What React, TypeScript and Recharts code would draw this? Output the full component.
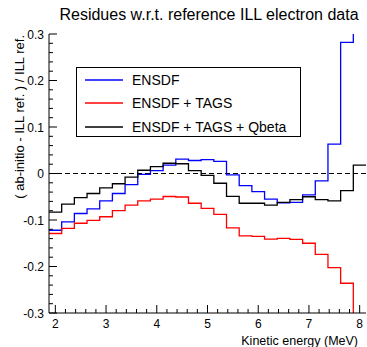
import React from 'react';
import { LineChart, Line, XAxis, YAxis, ReferenceLine, Legend } from 'recharts';

// Histogram bin edges (MeV); bins of 0.25 MeV centred on 2.00 ... 8.00
const binEdges = [1.875, 2.125, 2.375, 2.625, 2.875, 3.125, 3.375, 3.625, 3.875, 4.125, 4.375, 4.625, 4.875, 5.125, 5.375, 5.625, 5.875, 6.125, 6.375, 6.625, 6.875, 7.125, 7.375, 7.625, 7.875, 8.125];

const ensdf = [-0.122, -0.104, -0.086, -0.076, -0.059, -0.043, -0.024, -0.002, 0.006, 0.018, 0.031, 0.028, 0.030, 0.026, -0.003, -0.026, -0.039, -0.055, -0.063, -0.062, -0.046, -0.016, 0.063, 0.282, 0.45];
const ensdfTags = [-0.129, -0.118, -0.107, -0.101, -0.093, -0.080, -0.068, -0.059, -0.055, -0.0495, -0.0505, -0.064, -0.075, -0.088, -0.117, -0.134, -0.135, -0.141, -0.1395, -0.1415, -0.150, -0.174, -0.2025, -0.236, -0.45];
const ensdfTagsQbeta = [-0.083, -0.066, -0.052, -0.043, -0.031, -0.022, -0.008, 0.007, 0.015, 0.022, 0.021, 0.006, -0.004, -0.021, -0.049, -0.064, -0.064, -0.068, -0.062, -0.056, -0.050, -0.056, -0.059, -0.037, 0.018];

const seriesNames = ['ENSDF', 'ENSDF + TAGS', 'ENSDF + TAGS + Qbeta'];
const seriesColors = ['#0000ff', '#ff0000', '#000000'];

const xMajorTicks = [2, 3, 4, 5, 6, 7, 8];
const xTickLabels = ['2', '3', '4', '5', '6', '7', '8'];
const yMajorTicks = [-0.3, -0.2, -0.1, 0, 0.1, 0.2, 0.3];
const yTickLabels = ['-0.3', '-0.2', '-0.1', '0', '0.1', '0.2', '0.3'];

const title = 'Residues w.r.t. reference ILL electron data';
const xTitle = 'Kinetic energy (MeV)';
const yTitle = '( ab-initio - ILL ref. ) / ILL ref.';

const xDomain: [number, number] = [1.875, 8.125];
const yDomain: [number, number] = [-0.3, 0.3];

// all ticks (major + minor)
const xTicks: number[] = [];
for (let i = 0; i <= 30; i++) xTicks.push(Math.round((2 + 0.2 * i) * 10) / 10);
const yTicks: number[] = [];
for (let i = 0; i <= 30; i++) yTicks.push(Math.round((-0.3 + 0.02 * i) * 100) / 100);

// data table: one point per bin edge, last edge closes the last bin
const data = binEdges.map((edge, i) => {
  const k = Math.min(i, ensdf.length - 1);
  return { edge, ensdf: ensdf[k], ensdfTags: ensdfTags[k], ensdfTagsQbeta: ensdfTagsQbeta[k] };
});

const FONT = '"Liberation Sans", Arial, Helvetica, sans-serif';
const MAJ = 8;
const MIN = 4;

const idxOf = (arr: number[], v: number) => arr.findIndex((t) => Math.abs(t - v) < 1e-9);

const BottomTick = (props: any) => {
  const { x, y, payload } = props;
  const i = idxOf(xMajorTicks, payload.value);
  const major = i >= 0;
  return (
    <g>
      <line x1={x} x2={x} y1={y} y2={y - (major ? MAJ : MIN)} stroke="#000" strokeWidth={1} />
      {major && (
        <text x={x} y={y + 15} textAnchor="middle" fontSize={12} fontFamily={FONT} fill="#000">
          {xTickLabels[i]}
        </text>
      )}
    </g>
  );
};

const TopTick = (props: any) => {
  const { x, y, payload } = props;
  const major = idxOf(xMajorTicks, payload.value) >= 0;
  return <line x1={x} x2={x} y1={y} y2={y + (major ? MAJ : MIN)} stroke="#000" strokeWidth={1} />;
};

const LeftTick = (props: any) => {
  const { x, y, payload } = props;
  const i = idxOf(yMajorTicks, payload.value);
  const major = i >= 0;
  return (
    <g>
      <line x1={x} x2={x + (major ? MAJ : MIN)} y1={y} y2={y} stroke="#000" strokeWidth={1} />
      {major && (
        <text x={x - 5} y={y + 4.5} textAnchor="end" fontSize={12} fontFamily={FONT} fill="#000">
          {yTickLabels[i]}
        </text>
      )}
    </g>
  );
};

const RightTick = (props: any) => {
  const { x, y, payload } = props;
  const major = idxOf(yMajorTicks, payload.value) >= 0;
  return <line x1={x} x2={x - (major ? MAJ : MIN)} y1={y} y2={y} stroke="#000" strokeWidth={1} />;
};

const rowCenters = [12, 35, 58.5];

const renderLegend = (props: any) => {
  const payload = props.payload || [];
  return (
    <div
      style={{
        width: 225,
        height: 70,
        border: '1px solid #000',
        boxSizing: 'border-box',
        background: '#fff',
        position: 'relative',
        fontFamily: FONT,
        fontSize: 14,
        color: '#000',
      }}
    >
      {payload.map((entry: any, i: number) => (
        <div key={i} style={{ position: 'absolute', left: 0, top: rowCenters[i] - 10, height: 20, width: 223 }}>
          <svg width={50} height={20} style={{ position: 'absolute', left: 0, top: 0 }}>
            <line x1={8} x2={46} y1={10} y2={10} stroke={entry.color} strokeWidth={1.3} />
          </svg>
          <span style={{ position: 'absolute', left: 55, top: 0, lineHeight: '20px', whiteSpace: 'nowrap' }}>
            {entry.value}
          </span>
        </div>
      ))}
    </div>
  );
};

export default function App() {
  return (
    <div style={{ position: 'absolute', left: 0, top: 0, width: 367, height: 347, background: '#fff' }}>
      <LineChart width={367} height={347} data={data} margin={{ top: 34, right: 1, left: 0, bottom: 0 }}>
        <XAxis
          xAxisId="b"
          dataKey="edge"
          type="number"
          domain={xDomain}
          allowDataOverflow
          ticks={xTicks}
          interval={0}
          height={34}
          tickSize={0}
          tickMargin={0}
          tickLine={false}
          axisLine={{ stroke: '#000', strokeWidth: 1 }}
          tick={(p: any) => <BottomTick {...p} />}
          label={{
            content: (p: any) => {
              const vb = p.viewBox || {};
              return (
                <text x={vb.x + vb.width - 8} y={vb.y + 32} textAnchor="end" fontSize={12.5} fontFamily={FONT} fill="#000">
                  {xTitle}
                </text>
              );
            },
          }}
        />
        <XAxis
          xAxisId="t"
          orientation="top"
          type="number"
          domain={xDomain}
          allowDataOverflow
          ticks={xTicks}
          interval={0}
          height={0}
          tickSize={0}
          tickMargin={0}
          tickLine={false}
          axisLine={{ stroke: '#000', strokeWidth: 1 }}
          tick={(p: any) => <TopTick {...p} />}
        />
        <YAxis
          yAxisId="l"
          type="number"
          domain={yDomain}
          allowDataOverflow
          ticks={yTicks}
          interval={0}
          width={49}
          tickSize={0}
          tickMargin={0}
          tickLine={false}
          axisLine={{ stroke: '#000', strokeWidth: 1 }}
          tick={(p: any) => <LeftTick {...p} />}
          label={{
            content: (p: any) => {
              const vb = p.viewBox || {};
              const lx = vb.x + 24;
              const ly = vb.y + 1;
              return (
                <text x={lx} y={ly} transform={`rotate(-90, ${lx}, ${ly})`} textAnchor="end" fontSize={13} fontFamily={FONT} fill="#000">
                  {yTitle}
                </text>
              );
            },
          }}
        />
        <YAxis
          yAxisId="r"
          orientation="right"
          type="number"
          domain={yDomain}
          allowDataOverflow
          ticks={yTicks}
          interval={0}
          width={0}
          tickSize={0}
          tickMargin={0}
          tickLine={false}
          axisLine={{ stroke: '#000', strokeWidth: 1 }}
          tick={(p: any) => <RightTick {...p} />}
        />
        <ReferenceLine xAxisId="b" yAxisId="l" y={0} stroke="#000" strokeWidth={1} strokeDasharray="5 3" />
        <Line xAxisId="b" yAxisId="l" type="stepAfter" dataKey="ensdf" name={seriesNames[0]} stroke={seriesColors[0]} strokeWidth={1.3} dot={false} activeDot={false} isAnimationActive={false} />
        <Line xAxisId="b" yAxisId="l" type="stepAfter" dataKey="ensdfTags" name={seriesNames[1]} stroke={seriesColors[1]} strokeWidth={1.3} dot={false} activeDot={false} isAnimationActive={false} />
        <Line xAxisId="b" yAxisId="l" type="stepAfter" dataKey="ensdfTagsQbeta" name={seriesNames[2]} stroke={seriesColors[2]} strokeWidth={1.3} dot={false} activeDot={false} isAnimationActive={false} />
        <Legend
          layout="horizontal"
          verticalAlign="middle"
          align="center"
          content={renderLegend}
          wrapperStyle={{ position: 'absolute', left: 76, top: 67, width: 225, height: 70 }}
        />
      </LineChart>
      <svg
        width={367}
        height={34}
        style={{ position: 'absolute', left: 0, top: 0, pointerEvents: 'none' }}
      >
        <text x={209} y={20} textAnchor="middle" fontSize={16} fontFamily={FONT} fill="#000">
          {title}
        </text>
      </svg>
    </div>
  );
}
